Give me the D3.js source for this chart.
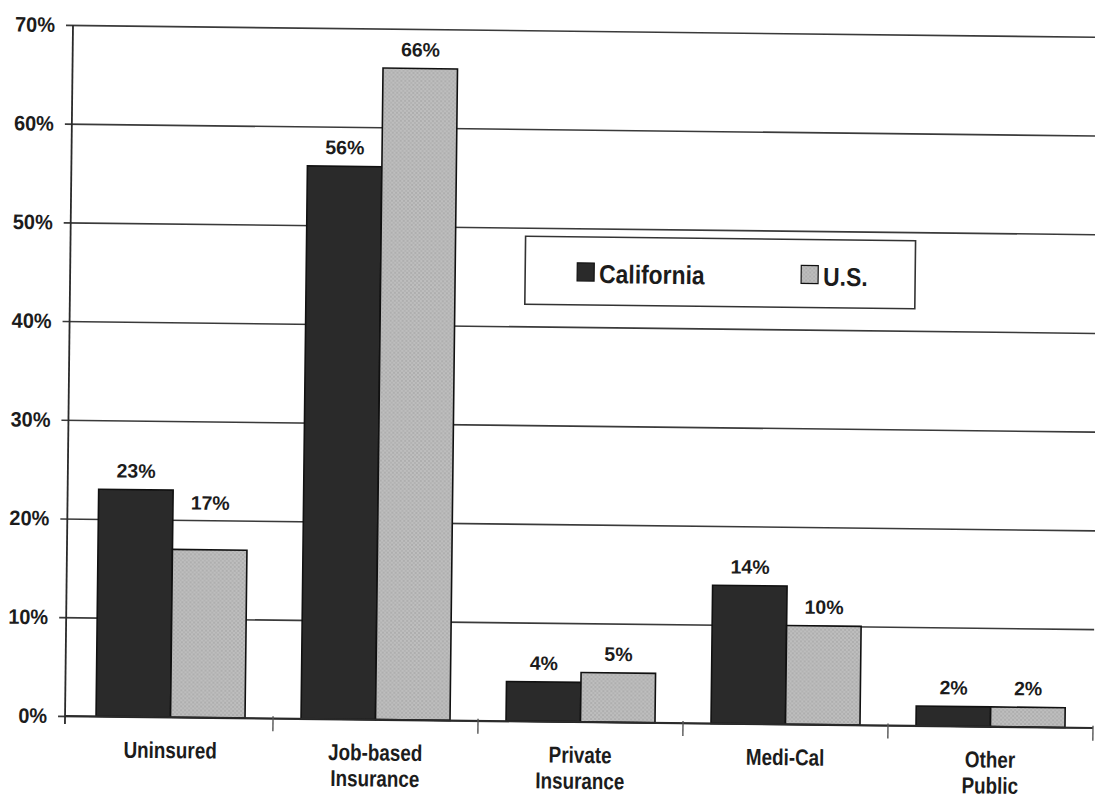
<!DOCTYPE html>
<html>
<head>
<meta charset="utf-8">
<script src="https://cdn.jsdelivr.net/npm/d3@7"></script>
<style>
  html, body { margin: 0; padding: 0; background: #ffffff; }
  svg { display: block; }
  text { font-family: "Liberation Sans", Arial, Helvetica, sans-serif; font-weight: bold; fill: #1c1c1c; }
</style>
</head>
<body>
<svg id="chart" width="1095" height="798"></svg>
<script>
// Health coverage by source, California vs. U.S. (percent of population)
const categories = ["Uninsured", "Job-based Insurance", "Private Insurance", "Medi-Cal", "Other Public"];
const categoryLines = [["Uninsured"], ["Job-based", "Insurance"], ["Private", "Insurance"], ["Medi-Cal"], ["Other", "Public"]];
const seriesNames = ["California", "U.S."];
const california = [23, 56, 4, 14, 2];
const us = [17, 66, 5, 10, 2];
const yTicks = [0, 10, 20, 30, 40, 50, 60, 70];

const svg = d3.select("#chart");

// plot frame
const axisX = 73;
const plotTop = 25, plotBottom = 716;
const bandLeft = 76, bandStep = 205;
const plotRight = bandLeft + bandStep * categories.length;

// the printed page sits slightly skewed
const root = svg.append("g").attr("transform", `rotate(0.66, ${axisX}, ${plotTop})`);

const defs = svg.append("defs");
const pat = defs.append("pattern")
  .attr("id", "halftone")
  .attr("patternUnits", "userSpaceOnUse")
  .attr("width", 4).attr("height", 4);
pat.append("rect").attr("width", 4).attr("height", 4).attr("fill", "#bebebe");
pat.append("circle").attr("cx", 1).attr("cy", 1).attr("r", 0.8).attr("fill", "#999");
pat.append("circle").attr("cx", 3).attr("cy", 3).attr("r", 0.8).attr("fill", "#a4a4a4");

const fills = { "California": "#2a2a2a", "U.S.": "url(#halftone)" };

const x0 = d3.scaleBand().domain(categories).range([bandLeft, plotRight]).padding(0);
const x1 = d3.scaleBand().domain(seriesNames).range([0, x0.bandwidth()]).paddingInner(0).paddingOuter(0.376);
const y = d3.scaleLinear().domain([0, 70]).range([plotBottom, plotTop]);

// value axis with gridlines
const yAxis = d3.axisLeft(y)
  .tickValues(yTicks)
  .tickFormat(d => d + "%")
  .tickSize(-(plotRight - axisX))
  .tickPadding(18);

const yg = root.append("g")
  .attr("transform", `translate(${axisX},0)`)
  .call(yAxis)
  .attr("font-family", null)
  .attr("font-size", null);
yg.select(".domain").remove();
yg.selectAll(".tick line")
  .attr("x1", -7)
  .attr("stroke", "#3a3a3a")
  .attr("stroke-width", 1.6);
yg.selectAll(".tick text")
  .attr("x", 0)
  .attr("transform", "translate(-18,0) scale(0.95,1)")
  .style("font-size", "21px");

// vertical axis line
root.append("line")
  .attr("x1", axisX).attr("x2", axisX)
  .attr("y1", y(70)).attr("y2", y(0) + 8)
  .attr("stroke", "#2a2a2a").attr("stroke-width", 1.8);

// bars
const rows = categories.map((c, i) => ({
  cat: c,
  values: [
    { key: "California", v: california[i] },
    { key: "U.S.", v: us[i] }
  ]
}));

const groups = root.append("g").selectAll("g")
  .data(rows)
  .join("g")
  .attr("transform", d => `translate(${x0(d.cat)},0)`);

groups.selectAll("rect")
  .data(d => d.values)
  .join("rect")
  .attr("x", d => x1(d.key))
  .attr("y", d => y(d.v))
  .attr("width", x1.bandwidth())
  .attr("height", d => y(0) - y(d.v))
  .attr("fill", d => fills[d.key])
  .attr("stroke", "#111")
  .attr("stroke-width", 1.6);

// value labels; the uninsured U.S. label sits higher above its bar
const labelLift = { "Uninsured|U.S.": 28 };
groups.selectAll("text.value")
  .data(d => d.values.map(v => ({ ...v, cat: d.cat })))
  .join("text")
  .attr("class", "value")
  .attr("x", d => x1(d.key) + x1.bandwidth() / 2)
  .attr("y", d => y(d.v) - 12 - (labelLift[d.cat + "|" + d.key] || 0))
  .attr("text-anchor", "middle")
  .style("font-size", "19.5px")
  .text(d => d3.format(".0f")(d.v) + "%");

// category axis
root.append("line")
  .attr("x1", axisX).attr("x2", plotRight)
  .attr("y1", y(0)).attr("y2", y(0))
  .attr("stroke", "#2a2a2a").attr("stroke-width", 1.8);

root.append("g").selectAll("line")
  .data(categories.map((c, i) => i + 1))
  .join("line")
  .attr("x1", i => x0.range()[0] + i * x0.step())
  .attr("x2", i => x0.range()[0] + i * x0.step())
  .attr("y1", y(0) - 2)
  .attr("y2", y(0) + 13)
  .attr("stroke", "#555")
  .attr("stroke-width", 1.4);

const catLabels = root.append("g").selectAll("g")
  .data(categories.map((c, i) => ({ cat: c, lines: categoryLines[i] })))
  .join("g")
  .attr("transform", d => `translate(${x0(d.cat) + x0.bandwidth() / 2},${plotBottom + 41}) scale(0.82,1)`);

catLabels.append("text")
  .attr("text-anchor", "middle")
  .style("font-size", "23px")
  .selectAll("tspan")
  .data(d => d.lines)
  .join("tspan")
  .attr("x", 0)
  .attr("y", (d, i) => i * 26)
  .text(d => d);

// legend
const legend = root.append("g").attr("transform", "translate(528,231)");
legend.append("rect")
  .attr("width", 390).attr("height", 68)
  .attr("fill", "#fff")
  .attr("stroke", "#333").attr("stroke-width", 1.6);

const legendPos = { "California": 52, "U.S.": 276 };
const li = legend.selectAll("g.item")
  .data(seriesNames)
  .join("g")
  .attr("class", "item")
  .attr("transform", d => `translate(${legendPos[d]},0)`);
li.append("rect")
  .attr("y", 26).attr("width", 17).attr("height", 18)
  .attr("fill", d => fills[d])
  .attr("stroke", "#111").attr("stroke-width", 1.2);
li.append("text")
  .attr("transform", "translate(22,46) scale(0.88,1)")
  .style("font-size", "26px")
  .text(d => d);
</script>
</body>
</html>
